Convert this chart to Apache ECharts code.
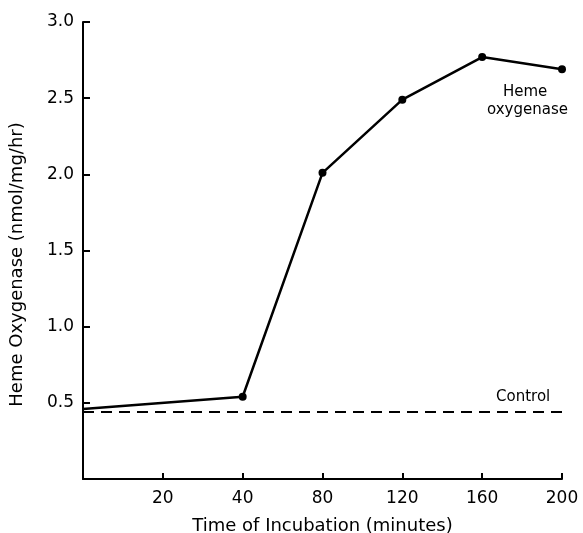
<!DOCTYPE html>
<html>
<head>
<meta charset="utf-8">
<script src="https://cdn.jsdelivr.net/npm/echarts@6/dist/echarts.min.js"></script>
<style>
html,body{margin:0;padding:0;background:#fff;}
#chart{width:583px;height:533px;}
</style>
</head>
<body>
<div id="chart"></div>
<script>
// Tick labels of the (equally spaced, non-linear) time axis
const timeTickLabels = ['', '20', '40', '80', '120', '160', '200'];
const tickMinutes = [0, 20, 40, 80, 120, 160, 200];
// Heme oxygenase measurements
const hemeMinutes = [0, 40, 80, 120, 160, 200];
const hemeValues = [0.46, 0.54, 2.01, 2.49, 2.77, 2.69];
// Control level
const controlMinutes = [0, 200];
const controlValue = 0.44;

const FONT = 'DejaVu Sans';
const chart = echarts.init(document.getElementById('chart'), null, {renderer: 'canvas'});

const hemeData = hemeMinutes.map((m, i) => {
  const item = {value: [tickMinutes.indexOf(m), hemeValues[i]]};
  if (i === 0) item.symbolSize = 0;
  return item;
});
const controlData = controlMinutes.map(m => [tickMinutes.indexOf(m), controlValue]);

chart.setOption({
  animation: false,
  backgroundColor: '#fff',
  grid: {left: 83, right: 21, top: 22, bottom: 54, containLabel: false, outerBoundsMode: 'none'},
  xAxis: {
    type: 'value', min: 0, max: 6, interval: 1,
    name: 'Time of Incubation (minutes)',
    nameLocation: 'middle', nameGap: 38,
    nameTextStyle: {fontFamily: FONT, fontSize: 18, color: '#000'},
    axisLine: {show: true, lineStyle: {color: '#000', width: 2}},
    axisTick: {show: true, inside: true, length: 6, lineStyle: {color: '#000', width: 2}},
    axisLabel: {
      fontFamily: FONT, fontSize: 17, color: '#000', margin: 11,
      formatter: v => timeTickLabels[Math.round(v)]
    },
    splitLine: {show: false}
  },
  yAxis: {
    type: 'value', min: 0, max: 3, interval: 0.5,
    name: 'Heme Oxygenase (nmol/mg/hr)',
    nameLocation: 'middle', nameGap: 57,
    nameTextStyle: {fontFamily: FONT, fontSize: 18, color: '#000', padding: [0, 28, 0, 0]},
    axisLine: {show: true, lineStyle: {color: '#000', width: 2}},
    axisTick: {show: true, inside: true, length: 7, lineStyle: {color: '#000', width: 2}},
    axisLabel: {
      fontFamily: FONT, fontSize: 17, color: '#000', margin: 9,
      formatter: v => v === 0 ? '' : v.toFixed(1)
    },
    splitLine: {show: false}
  },
  series: [
    {
      type: 'line',
      data: hemeData,
      symbol: 'circle',
      symbolSize: 8,
      itemStyle: {color: '#000'},
      lineStyle: {color: '#000', width: 2.5}
    },
    {
      type: 'line',
      data: controlData,
      symbol: 'none',
      lineStyle: {color: '#000', width: 2, type: [11, 7]}
    }
  ],
  graphic: [
    {type: 'text', left: 503, top: 85, style: {text: 'Heme', font: '15px "DejaVu Sans"', fill: '#000'}},
    {type: 'text', left: 487, top: 103, style: {text: 'oxygenase', font: '15px "DejaVu Sans"', fill: '#000'}},
    {type: 'text', left: 496, top: 390, style: {text: 'Control', font: '15px "DejaVu Sans"', fill: '#000'}}
  ]
});
</script>
</body>
</html>
